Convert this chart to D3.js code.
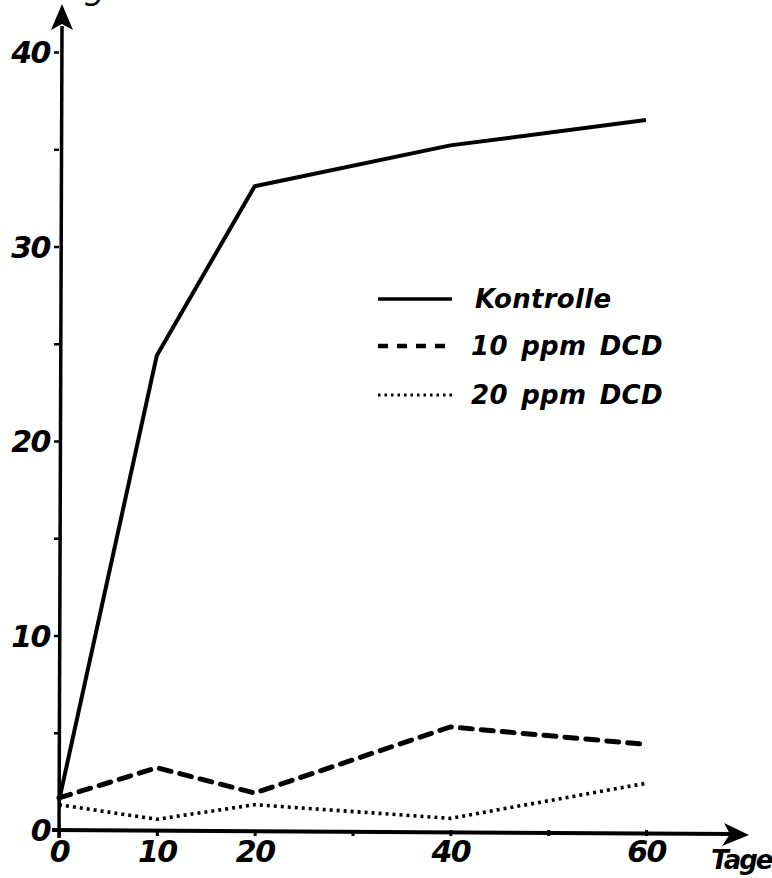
<!DOCTYPE html>
<html>
<head>
<meta charset="utf-8">
<script src="https://cdn.jsdelivr.net/npm/d3@7"></script>
<style>
html,body{margin:0;padding:0;background:#fff;}
svg{display:block;}
text{font-family:"DejaVu Sans",sans-serif;font-style:italic;fill:#000;}
</style>
</head>
<body>
<svg id="chart" width="772" height="878"></svg>
<script>
const days = [0, 10, 20, 40, 60];
const kontrolle = [1.5, 24.4, 33.1, 35.2, 36.5];
const dcd10 = [1.65, 3.2, 1.9, 5.3, 4.4];
const dcd20 = [1.3, 0.55, 1.3, 0.6, 2.4];
const seriesNames = ["Kontrolle", "10 ppm DCD", "20 ppm DCD"];
const xTicks = [0, 10, 20, 30, 40, 50, 60];
const xTickLabels = ["0", "10", "20", "", "40", "", "60"];
const yTicks = [0, 5, 10, 15, 20, 25, 30, 35, 40];
const yTickLabels = ["0", "", "10", "", "20", "", "30", "", "40"];

const svg = d3.select("#chart");
const x = d3.scaleLinear().domain([0, 60]).range([59, 646]);
const y = d3.scaleLinear().domain([0, 40]).range([830, 52]);

// y axis
const yAxis = d3.axisLeft(y).tickValues(yTicks).tickSize(5)
  .tickFormat((d, i) => yTickLabels[i]);
const gy = svg.append("g").attr("transform", `translate(${x(0)},0)`).call(yAxis);
gy.select(".domain").remove();
gy.selectAll(".tick line").attr("stroke", "#000").attr("stroke-width", 2.5);
gy.selectAll(".tick text").attr("x", -9).attr("font-size", 30).attr("font-weight", "bold")
  .attr("letter-spacing", -1.5).attr("dy", "0.36em");
svg.append("line").attr("x1", x(0)).attr("x2", x(0) + 3).attr("y1", 838).attr("y2", 26)
  .attr("stroke", "#000").attr("stroke-width", 3.5);
svg.append("path").attr("d", `M${x(0)+3},4 L${x(0)-8},30 L${x(0)+3},24 L${x(0)+14},30 Z`).attr("fill", "#000");

// x axis
const xAxis = d3.axisBottom(x).tickValues(xTicks).tickSize(6)
  .tickFormat((d, i) => xTickLabels[i]);
const gx = svg.append("g").attr("transform", `translate(0,${y(0)})`).call(xAxis);
gx.select(".domain").remove();
gx.selectAll(".tick line").attr("stroke", "#000").attr("stroke-width", 3);
gx.selectAll(".tick text").attr("y", 11).attr("font-size", 30).attr("font-weight", "bold")
  .attr("letter-spacing", -1.5).attr("dy", "0.71em");
svg.append("line").attr("x1", 52).attr("x2", 735).attr("y1", y(0)).attr("y2", y(0) + 4)
  .attr("stroke", "#000").attr("stroke-width", 4);
svg.append("path").attr("d", `M749,835 L724,823 L730,834 L722,846 Z`).attr("fill", "#000");

svg.append("text").attr("x", 711).attr("y", 869).attr("font-size", 26).attr("font-weight", "bold")
  .attr("letter-spacing", -2).text("Tage");
svg.append("text").attr("x", 84).attr("y", -1).attr("font-size", 34).text("g");

// lines
const line = d3.line().x((d, i) => x(days[i])).y(d => y(d));
svg.append("path").datum(kontrolle).attr("d", line).attr("fill", "none")
  .attr("stroke", "#000").attr("stroke-width", 4).attr("stroke-linejoin", "round");
svg.append("path").datum(dcd10).attr("d", line).attr("fill", "none")
  .attr("stroke", "#000").attr("stroke-width", 5).attr("stroke-dasharray", "12,9")
  .attr("stroke-linecap", "round");
svg.append("path").datum(dcd20).attr("d", line).attr("fill", "none")
  .attr("stroke", "#000").attr("stroke-width", 3.6).attr("stroke-dasharray", "3,4");

// legend
const legY = [299, 346, 395];
const dashes = [null, "10,9", "2.5,4"];
const widths = [3.5, 4.5, 3];
seriesNames.forEach((name, i) => {
  const l = svg.append("line").attr("x1", 378).attr("x2", 452).attr("y1", legY[i]).attr("y2", legY[i])
    .attr("stroke", "#000").attr("stroke-width", widths[i]);
  if (dashes[i]) l.attr("stroke-dasharray", dashes[i]);
  svg.append("text").attr("x", i === 0 ? 475 : 471).attr("y", legY[i] + 9)
    .attr("font-size", 26).attr("font-weight", "bold").attr("letter-spacing", 0.3)
    .attr("word-spacing", 4).text(name);
});
</script>
</body>
</html>
